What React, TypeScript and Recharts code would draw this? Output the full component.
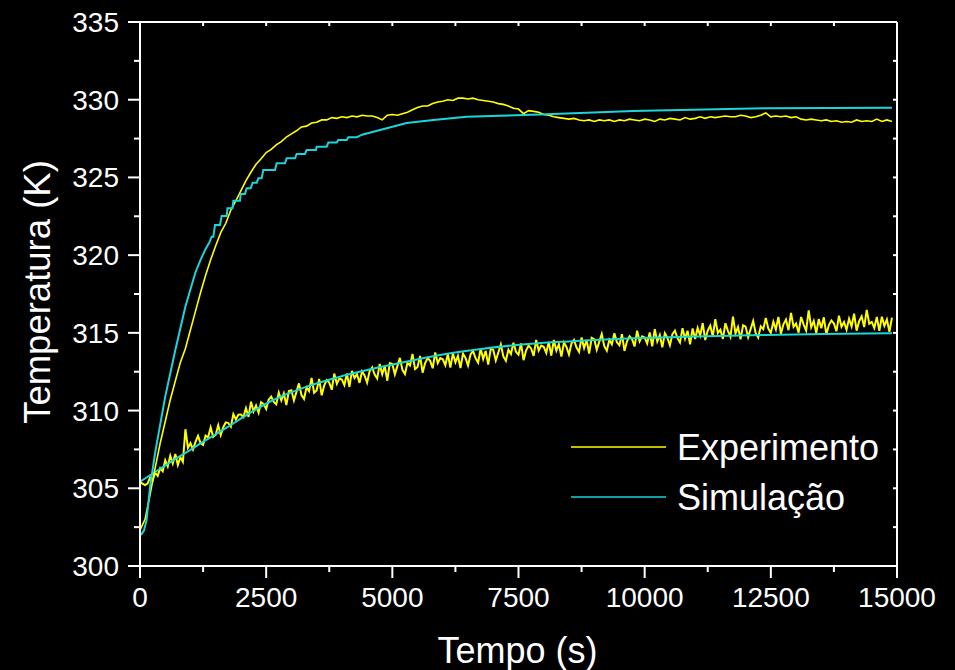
import React from 'react';
import { LineChart, Line, XAxis, YAxis, Legend, Label } from 'recharts';

const FONT = '"Liberation Sans", Arial, Helvetica, sans-serif';
const YELLOW = '#ffff00';
const CYAN = '#1cd4dc';
const WHITE = '#ffffff';

// Axis ticks
const X_TICKS = [0, 1250, 2500, 3750, 5000, 6250, 7500, 8750, 10000, 11250, 12500, 13750, 15000];
const X_MAJOR = [0, 2500, 5000, 7500, 10000, 12500, 15000];
const Y_TICKS = [300, 302.5, 305, 307.5, 310, 312.5, 315, 317.5, 320, 322.5, 325, 327.5, 330, 332.5, 335];
const Y_MAJOR = [300, 305, 310, 315, 320, 325, 330, 335];

// Experimento (upper run), sampled every 100 s
const EXP_UPPER_STEP_S = 100;
const expUpperTemp = [
  302.3, 303.0, 304.6, 306.3, 307.9, 309.3, 310.7, 311.9, 313.1, 314.0,
  315.2, 316.4, 317.6, 318.7, 319.7, 320.6, 321.45, 322.05, 322.9, 323.5,
  324.15, 324.8, 325.35, 325.85, 326.2, 326.6, 326.8, 327.1, 327.3, 327.6,
  327.8, 328.0, 328.25, 328.3, 328.5, 328.55, 328.7, 328.7, 328.85, 328.8,
  328.9, 328.85, 328.95, 328.9, 329.0, 328.95, 328.95, 328.85, 328.7, 329.0,
  329.05, 329.0, 329.1, 329.2, 329.35, 329.5, 329.6, 329.6, 329.75, 329.85,
  329.9, 330.0, 329.95, 330.1, 330.1, 330.05, 330.1, 330.0, 329.95, 329.9,
  329.85, 329.75, 329.7, 329.6, 329.45, 329.4, 329.1, 329.3, 329.25, 329.2,
  329.05, 329.0, 328.9, 328.85, 328.8, 328.75, 328.8, 328.7, 328.65, 328.7,
  328.6, 328.7, 328.65, 328.7, 328.6, 328.7, 328.65, 328.75, 328.7, 328.65,
  328.75, 328.7, 328.6, 328.75, 328.7, 328.8, 328.75, 328.7, 328.85, 328.75,
  328.8, 328.9, 328.8, 328.9, 328.85, 328.9, 328.95, 328.9, 328.9, 329.0,
  328.95, 328.85, 328.9, 329.0, 329.15, 328.9, 328.95, 328.9, 328.95, 328.85,
  328.9, 328.75, 328.7, 328.75, 328.7, 328.65, 328.7, 328.6, 328.65, 328.55,
  328.6, 328.55, 328.7, 328.6, 328.65, 328.6, 328.75, 328.6, 328.7, 328.6,
];

// Experimento (lower run), sampled every 50 s
const EXP_LOWER_STEP_S = 50;
const expLowerTemp = [
  305.4, 305.3, 305.2, 305.3, 305.7, 305.5, 306.0, 305.8, 306.3, 306.1,
  306.8, 306.4, 307.1, 306.6, 307.2, 306.5, 307.0, 306.7, 308.8, 307.6,
  307.9, 307.49, 307.98, 308.37, 307.91, 307.8, 308.39, 308.28, 308.92, 308.31,
  308.45, 309.06, 308.42, 308.93, 309.24, 309.2, 308.96, 309.77, 309.43, 309.74,
  309.75, 309.58, 310.16, 309.59, 310.57, 309.95, 310.33, 309.86, 310.54, 310.42,
  310.1, 310.7, 310.9, 310.55, 310.4, 311.15, 310.65, 311.1, 310.35, 311.25,
  311.3, 310.65, 311.2, 311.75, 311.0, 310.75, 311.5, 311.25, 312.1, 311.15,
  311.3, 312.04, 310.98, 311.62, 311.96, 311.8, 311.34, 312.38, 311.72, 312.06,
  312.0, 311.64, 312.38, 311.52, 312.56, 312.1, 312.34, 311.78, 312.52, 312.26,
  311.8, 312.54, 312.78, 312.32, 312.06, 313.0, 312.34, 312.88, 311.92, 313.06,
  313.0, 312.33, 312.86, 313.39, 312.62, 312.35, 313.08, 312.91, 313.64, 312.67,
  312.8, 313.52, 312.44, 313.06, 313.38, 313.2, 312.72, 313.74, 313.06, 313.38,
  313.3, 312.92, 313.64, 312.76, 313.68, 313.1, 313.52, 312.74, 313.66, 313.38,
  312.9, 313.62, 313.84, 313.36, 313.08, 314.0, 313.32, 313.84, 312.96, 313.98,
  313.9, 313.22, 313.74, 314.26, 313.48, 313.2, 313.92, 313.64, 314.36, 313.78,
  313.6, 314.32, 313.24, 313.86, 314.18, 314.0, 313.52, 314.54, 313.86, 314.18,
  314.1, 313.71, 314.42, 313.53, 314.54, 313.85, 314.26, 313.47, 314.38, 314.09,
  313.6, 314.32, 314.54, 314.06, 313.78, 314.7, 314.02, 314.54, 313.66, 314.68,
  314.6, 313.91, 314.42, 314.93, 314.14, 313.85, 314.56, 314.27, 314.98, 314.39,
  314.2, 314.92, 313.84, 314.46, 314.78, 314.6, 314.12, 315.14, 314.46, 314.78,
  314.7, 314.31, 315.02, 314.13, 315.24, 314.45, 314.86, 314.07, 314.98, 314.69,
  314.2, 314.92, 315.14, 314.66, 314.38, 315.3, 314.62, 315.14, 314.26, 315.28,
  314.6, 315.31, 314.82, 315.63, 314.54, 315.15, 315.46, 314.77, 315.88, 314.99,
  315.2, 314.61, 315.62, 315.13, 314.74, 316.05, 314.96, 315.37, 314.58, 315.49,
  315.4, 314.72, 315.24, 315.76, 314.98, 314.7, 315.42, 315.24, 315.96, 315.28,
  315.0, 315.71, 315.22, 316.03, 314.94, 315.55, 315.86, 315.17, 316.28, 315.39,
  315.6, 315.01, 316.02, 315.53, 315.14, 316.45, 315.36, 315.77, 314.98, 315.89,
  315.3, 316.0, 314.9, 315.5, 315.8, 315.6, 315.1, 316.1, 315.4, 315.7,
  315.2, 315.91, 315.42, 316.23, 315.14, 315.75, 316.06, 315.37, 316.48, 315.59,
  315.7, 315.31, 316.02, 315.13, 316.04, 315.45, 315.86, 315.07, 315.98,
];

// Simulação (upper run) - stepped solution
const simUpperTime = [
  0, 30, 80, 130, 200, 300, 400, 500, 600, 700, 800, 900, 1000, 1100, 1200, 1300, 1380,
  1420, 1453, 1486, 1585, 1618, 1717, 1734, 1833, 1849, 1981, 1995, 2080, 2113, 2193,
  2232, 2312, 2344, 2410, 2443, 2675, 2708, 2873, 2906, 3071, 3104, 3269, 3303, 3487,
  3501, 3699, 3732, 3897, 3930, 4096, 4128, 4294,
  4400, 4756, 5284, 5812, 6473, 7133, 8059, 9770, 12418, 14900,
];
const simUpperTemp = [
  302.1, 302.05, 302.3, 302.95, 305.1, 307.3, 309.1, 310.9, 312.4, 313.9, 315.3, 316.7, 317.8, 318.9, 319.7, 320.4, 320.85,
  321.19, 321.19, 321.94, 321.94, 322.52, 322.52, 323.01, 323.01, 323.5, 323.5, 323.93, 323.93, 324.3, 324.3,
  324.66, 324.66, 324.94, 324.94, 325.48, 325.48, 325.91, 325.91, 326.23, 326.23, 326.51, 326.51, 326.77, 326.77,
  326.98, 326.98, 327.24, 327.24, 327.41, 327.41, 327.58, 327.58,
  327.75, 328.05, 328.5, 328.7, 328.9, 328.97, 329.06, 329.27, 329.45, 329.49,
];

// Simulação (lower run)
const simLowerTime = [0, 300, 660, 991, 1254, 1717, 2180, 2642, 3303, 3963, 4954, 5945, 6605, 7463, 8500, 9774, 11000, 12418, 13500, 14900];
const simLowerTemp = [305.42, 306.05, 306.8, 307.46, 308.0, 308.9, 309.85, 310.68, 311.54, 312.18, 312.93, 313.58, 313.9, 314.22, 314.45, 314.65, 314.77, 314.86, 314.92, 314.97];

const fromSeries = (times: number[], temps: number[]) => temps.map((y, i) => ({ x: times[i], y }));
const fromSampled = (step: number, temps: number[]) => temps.map((y, i) => ({ x: i * step, y }));

const expUpper = fromSampled(EXP_UPPER_STEP_S, expUpperTemp);
const expLower = fromSampled(EXP_LOWER_STEP_S, expLowerTemp);
const simUpper = fromSeries(simUpperTime, simUpperTemp);
const simLower = fromSeries(simLowerTime, simLowerTemp);

const BottomTick = (props: any) => {
  const { x, y, payload } = props;
  const v = payload.value;
  const major = X_MAJOR.includes(v);
  return (
    <g>
      <line x1={x} x2={x} y1={y} y2={y + (major ? 12 : 6)} stroke={WHITE} strokeWidth={2} />
      {major && (
        <text x={x} y={y + 41} textAnchor="middle" fill={WHITE} fontSize={28} fontFamily={FONT}>
          {v}
        </text>
      )}
    </g>
  );
};

const LeftTick = (props: any) => {
  const { x, y, payload } = props;
  const v = payload.value;
  const major = Y_MAJOR.includes(v);
  return (
    <g>
      <line x1={x - (major ? 12 : 6)} x2={x} y1={y} y2={y} stroke={WHITE} strokeWidth={2} />
      {major && (
        <text x={x - 21} y={y + 10} textAnchor="end" fill={WHITE} fontSize={28} fontFamily={FONT}>
          {v}
        </text>
      )}
    </g>
  );
};

const TopTick = (props: any) => {
  const { x, y } = props;
  return <line x1={x} x2={x} y1={y} y2={y + 4} stroke={WHITE} strokeWidth={2} />;
};

const RightTick = (props: any) => {
  const { x, y } = props;
  return <line x1={x - 4} x2={x} y1={y} y2={y} stroke={WHITE} strokeWidth={2} />;
};

const XTitle = (props: any) => {
  const vb = props.viewBox || { x: 140, y: 566, width: 757, height: 104 };
  return (
    <text x={vb.x + vb.width / 2 - 1} y={vb.y + 97} textAnchor="middle" fill={WHITE} fontSize={36} fontFamily={FONT}>
      Tempo (s)
    </text>
  );
};

const YTitle = (props: any) => {
  const vb = props.viewBox || { x: 0, y: 22, width: 140, height: 544 };
  const cx = 50;
  const cy = vb.y + vb.height / 2 - 2;
  return (
    <text
      x={cx}
      y={cy}
      transform={`rotate(-90, ${cx}, ${cy})`}
      textAnchor="middle"
      fill={WHITE}
      fontSize={36.5}
      fontFamily={FONT}
    >
      Temperatura (K)
    </text>
  );
};

const LegendContent = (props: any) => {
  const items = (props.payload || []).filter((p: any) => p.type !== 'none');
  return (
    <svg width={330} height={110} style={{ display: 'block' }}>
      {items.map((p: any, i: number) => (
        <g key={i}>
          <line x1={11} x2={106} y1={32 + i * 50} y2={32 + i * 50} stroke={p.color} strokeWidth={1.5} />
          <text x={117} y={45 + i * 50} fill={WHITE} fontSize={36} fontFamily={FONT}>
            {p.value}
          </text>
        </g>
      ))}
    </svg>
  );
};

export default function App() {
  return (
    <div style={{ position: 'fixed', left: 0, top: 0, width: 955, height: 670, background: '#000' }}>
      <LineChart width={955} height={670} margin={{ top: 21, right: 57, bottom: 0, left: 0 }}>
        <XAxis
          xAxisId={0}
          dataKey="x"
          type="number"
          domain={[0, 15000]}
          ticks={X_TICKS}
          interval={0}
          allowDataOverflow
          height={104}
          tickSize={0}
          tickMargin={0}
          tickLine={false}
          axisLine={{ stroke: WHITE, strokeWidth: 2 }}
          tick={<BottomTick />}
        >
          <Label content={<XTitle />} />
        </XAxis>
        <XAxis
          xAxisId="top"
          orientation="top"
          dataKey="x"
          type="number"
          domain={[0, 15000]}
          ticks={X_TICKS}
          interval={0}
          allowDataOverflow
          height={1}
          tickSize={0}
          tickMargin={0}
          tickLine={false}
          axisLine={{ stroke: WHITE, strokeWidth: 2 }}
          tick={<TopTick />}
        />
        <YAxis
          yAxisId={0}
          type="number"
          domain={[300, 335]}
          ticks={Y_TICKS}
          interval={0}
          allowDataOverflow
          width={140}
          tickSize={0}
          tickMargin={0}
          tickLine={false}
          axisLine={{ stroke: WHITE, strokeWidth: 2 }}
          tick={<LeftTick />}
        >
          <Label content={<YTitle />} />
        </YAxis>
        <YAxis
          yAxisId="right"
          orientation="right"
          type="number"
          domain={[300, 335]}
          ticks={Y_TICKS}
          interval={0}
          allowDataOverflow
          width={1}
          tickSize={0}
          tickMargin={0}
          tickLine={false}
          axisLine={{ stroke: WHITE, strokeWidth: 2 }}
          tick={<RightTick />}
        />
        <Legend
          layout="vertical"
          align="center"
          verticalAlign="middle"
          content={<LegendContent />}
          wrapperStyle={{ position: 'absolute', left: 560, top: 415, width: 330, height: 110 }}
        />
        <Line
          data={expLower}
          dataKey="y"
          name="Experimento (2)"
          legendType="none"
          stroke={YELLOW}
          strokeWidth={2}
          dot={false}
          type="linear"
          isAnimationActive={false}
        />
        <Line
          data={simLower}
          dataKey="y"
          name="Simulação (2)"
          legendType="none"
          stroke={CYAN}
          strokeWidth={2}
          dot={false}
          type="monotone"
          isAnimationActive={false}
        />
        <Line
          data={expUpper}
          dataKey="y"
          name="Experimento"
          stroke={YELLOW}
          strokeWidth={1.6}
          dot={false}
          type="linear"
          isAnimationActive={false}
        />
        <Line
          data={simUpper}
          dataKey="y"
          name="Simulação"
          stroke={CYAN}
          strokeWidth={2}
          dot={false}
          type="linear"
          isAnimationActive={false}
        />
      </LineChart>
    </div>
  );
}
